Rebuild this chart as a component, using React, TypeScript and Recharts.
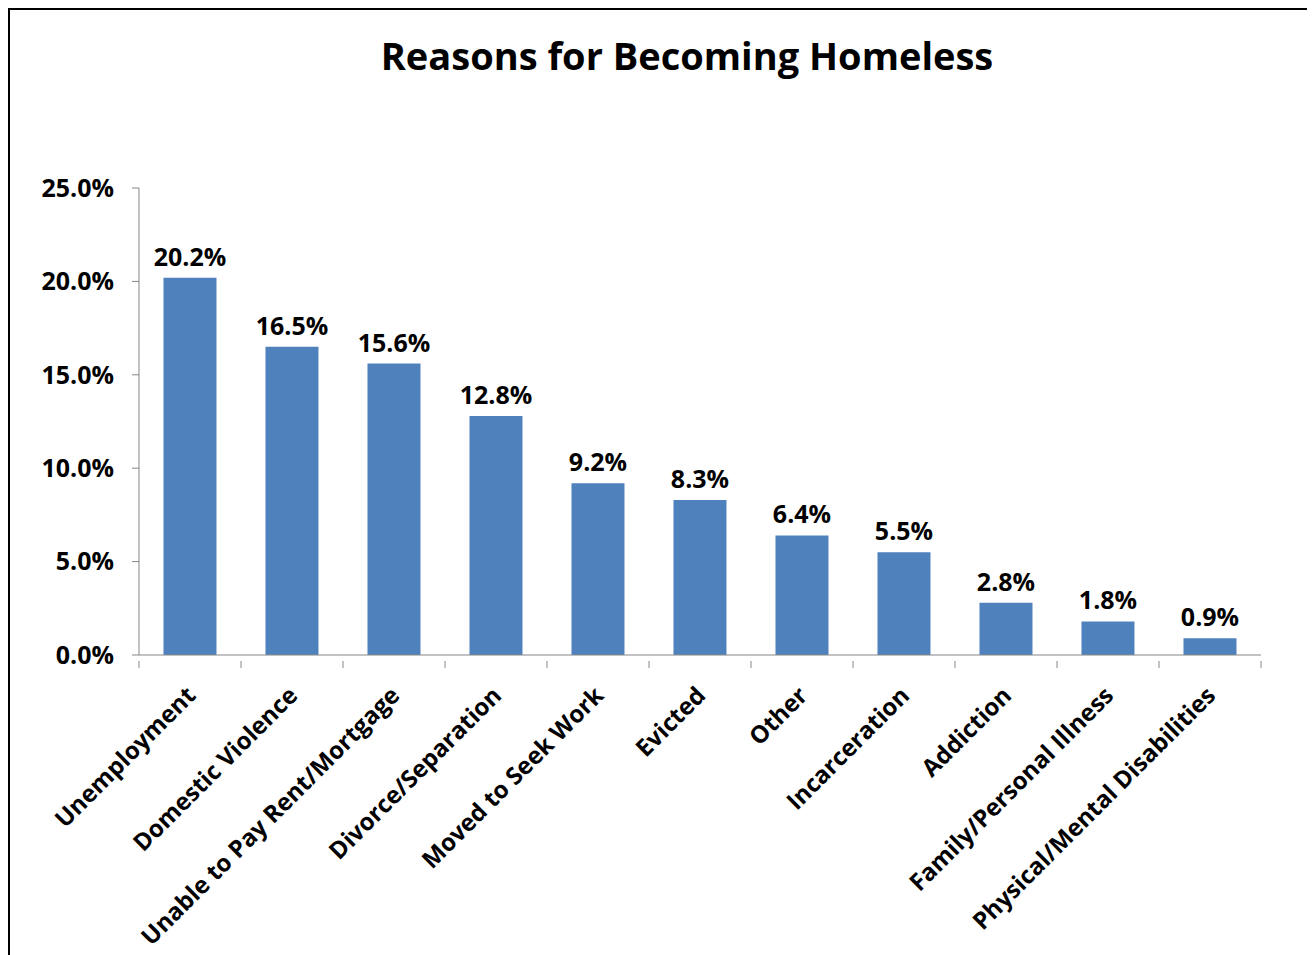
import React from 'react';
import { BarChart, Bar, XAxis, YAxis, LabelList } from 'recharts';

const categories = [
  'Unemployment',
  'Domestic Violence',
  'Unable to Pay Rent/Mortgage',
  'Divorce/Separation',
  'Moved to Seek Work',
  'Evicted',
  'Other',
  'Incarceration',
  'Addiction',
  'Family/Personal Illness',
  'Physical/Mental Disabilities',
];
const values = [20.2, 16.5, 15.6, 12.8, 9.2, 8.3, 6.4, 5.5, 2.8, 1.8, 0.9];
const yTicks = [0, 5, 10, 15, 20, 25];
const title = 'Reasons for Becoming Homeless';

const data = categories.map((c, i) => ({ name: c, value: values[i] }));

const W = 1307;
const H = 947;
const margin = { top: 178, right: 54, bottom: 0, left: 19 };
const yAxisWidth = 110;
const FONT = '"Open Sans", sans-serif';
const AXIS = '#868686';
const LABEL_SIZE = 25;

const step = (W - margin.left - margin.right - yAxisWidth) / categories.length;

const XTick = (props: any) => {
  const { x, y, payload, index } = props;
  const half = payload && payload.offset ? payload.offset : step / 2;
  const axisY = y - 2;
  const ax = x + 7;
  const ay = axisY + 36;
  return (
    <g>
      <line x1={x - half} x2={x - half} y1={axisY} y2={axisY + 7} stroke={AXIS} strokeWidth={1} />
      {index === categories.length - 1 && (
        <line x1={x + half} x2={x + half} y1={axisY} y2={axisY + 7} stroke={AXIS} strokeWidth={1} />
      )}
      <text
        x={ax}
        y={ay}
        transform={`rotate(-45, ${ax}, ${ay})`}
        textAnchor="end"
        fontFamily={FONT}
        fontWeight={700}
        fontSize={24}
        fill="#000"
      >
        {payload.value}
      </text>
    </g>
  );
};

export default function App() {
  return (
    <div
      style={{
        position: 'relative',
        width: W,
        height: H,
        borderTop: '2px solid #000',
        borderLeft: '2px solid #000',
        boxSizing: 'border-box',
        background: '#fff',
      }}
    >
      <BarChart
        width={W - 2}
        height={H - 2}
        data={data}
        margin={margin}
        barCategoryGap="24%"
      >
        <text
          x={677}
          y={60}
          textAnchor="middle"
          fontFamily={FONT}
          fontWeight={700}
          fontSize={38}
          fill="#000"
        >
          {title}
        </text>
        <YAxis
          width={yAxisWidth}
          domain={[0, 25]}
          ticks={yTicks}
          interval={0}
          tickFormatter={(v: number) => v.toFixed(1) + '%'}
          axisLine={{ stroke: AXIS }}
          tickLine={{ stroke: AXIS }}
          tickSize={7}
          tickMargin={18}
          tick={{ fill: '#000', fontFamily: FONT, fontWeight: 700, fontSize: LABEL_SIZE }}
        />
        <XAxis
          dataKey="name"
          interval={0}
          height={300}
          axisLine={{ stroke: AXIS }}
          tickLine={false}
          tick={<XTick />}
        />
        <Bar dataKey="value" fill="#4F81BD" isAnimationActive={false}>
          <LabelList
            dataKey="value"
            position="top"
            offset={12}
            formatter={(v: any) => Number(v).toFixed(1) + '%'}
            style={{ fill: '#000', fontFamily: FONT, fontWeight: 700, fontSize: LABEL_SIZE }}
          />
        </Bar>
      </BarChart>
    </div>
  );
}
